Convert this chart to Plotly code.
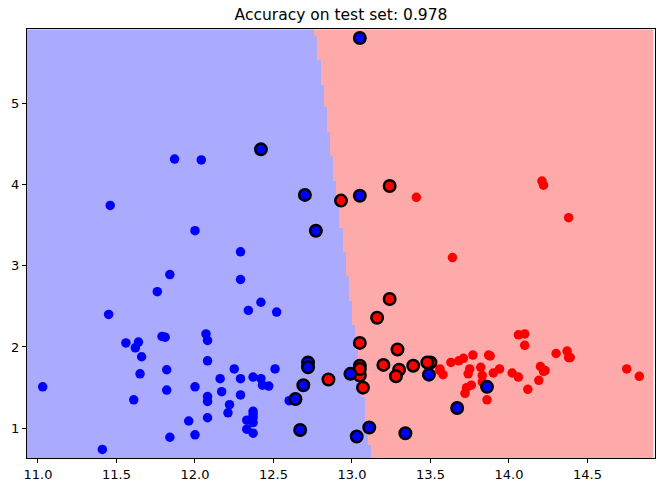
import numpy as np
import plotly.graph_objects as go

# clase 0 (rojo): alcohol, acido malico, marcado como vector soporte
c0_alcohol = [14.23, 13.2, 13.16, 14.37, 13.24, 14.2, 14.39, 14.06, 14.83, 13.86,
              14.1, 14.12, 13.75, 14.75, 14.38, 13.63, 14.3, 13.83, 14.19, 13.64,
              14.06, 12.93, 13.71, 12.85, 13.5, 13.05, 13.39, 13.3, 13.87, 14.02,
              13.73, 13.58, 13.68, 13.76, 13.51, 13.48, 13.28, 13.05, 13.07, 14.22,
              13.56, 13.41, 13.88, 13.24, 13.05, 14.21, 14.38, 13.9, 14.1, 13.94,
              13.05, 13.83, 13.82, 13.77, 13.74, 13.56, 14.22, 13.29, 13.72]
c0_malic = [1.71, 1.78, 2.36, 1.95, 2.59, 1.76, 1.87, 2.15, 1.64, 1.35,
            2.16, 1.48, 1.73, 1.73, 1.87, 1.81, 1.92, 1.57, 1.59, 3.1,
            1.63, 3.8, 1.86, 1.6, 1.81, 2.05, 1.77, 1.72, 1.9, 1.68,
            1.5, 1.66, 1.83, 1.53, 1.8, 1.81, 1.64, 1.65, 1.5, 3.99,
            1.71, 3.84, 1.89, 3.98, 1.77, 4.04, 3.59, 1.68, 2.02, 1.73,
            1.73, 1.65, 1.75, 1.9, 1.67, 1.73, 1.7, 1.97, 1.43]
c0_sv = [0, 1, 1, 0, 1, 0, 0, 0, 0, 0,
         0, 0, 0, 0, 0, 0, 0, 0, 0, 0,
         0, 1, 0, 1, 1, 1, 1, 1, 0, 0,
         0, 0, 0, 0, 0, 1, 1, 1, 1, 0,
         0, 0, 0, 1, 1, 0, 0, 0, 0, 0,
         1, 0, 0, 0, 0, 0, 0, 1, 0]

# clase 1 (azul)
c1_alcohol = [12.37, 12.33, 12.64, 13.67, 12.37, 12.17, 12.37, 13.11, 12.37, 13.34,
              12.21, 12.29, 13.86, 13.49, 12.99, 11.96, 11.66, 13.03, 11.84, 12.33,
              12.7, 12.0, 12.72, 12.08, 13.05, 11.84, 12.67, 12.16, 11.65, 11.64,
              12.08, 12.08, 12.0, 12.69, 12.29, 11.62, 12.47, 11.81, 12.29, 12.37,
              12.29, 12.08, 12.6, 12.34, 11.82, 12.51, 12.42, 12.25, 12.72, 12.22,
              11.61, 11.46, 12.52, 11.76, 11.41, 12.08, 11.03, 11.82, 12.42, 12.77,
              12.0, 11.45, 11.56, 12.42, 13.05, 11.87, 12.07, 12.43, 11.79, 12.37,
              12.04]
c1_malic = [0.94, 1.1, 1.36, 1.25, 1.13, 1.45, 1.21, 1.01, 1.17, 0.94,
            1.19, 1.61, 1.51, 1.66, 1.67, 1.09, 1.88, 0.9, 2.89, 0.99,
            3.87, 0.92, 1.81, 1.13, 3.86, 0.89, 0.98, 1.61, 1.67, 2.06,
            1.33, 1.83, 1.51, 1.53, 2.83, 1.99, 1.52, 2.12, 1.41, 1.07,
            3.17, 2.08, 1.34, 2.45, 1.72, 1.73, 2.55, 1.73, 1.75, 1.29,
            1.35, 3.74, 2.43, 2.68, 0.74, 1.39, 1.51, 1.47, 1.61, 3.43,
            3.43, 2.4, 2.05, 4.43, 5.8, 4.31, 2.16, 1.53, 2.13, 1.63,
            4.3]
c1_sv = [0, 0, 1, 1, 0, 0, 0, 1, 0, 1,
         0, 0, 1, 1, 1, 0, 0, 1, 0, 0,
         1, 0, 1, 0, 1, 0, 1, 0, 0, 0,
         0, 0, 0, 1, 0, 0, 0, 0, 0, 0,
         0, 0, 0, 0, 0, 0, 0, 0, 1, 0,
         0, 0, 0, 0, 0, 0, 0, 0, 0, 1,
         0, 0, 0, 1, 1, 0, 0, 0, 0, 0,
         0]

# frontera de decision (x de la frontera en y_min y y_max)
boundary_y = [0.64, 5.90]
boundary_x = [13.12, 12.765]
x_lims = [10.93, 14.93]
y_lims = [0.635, 5.91]
h = 0.02

xx = np.arange(x_lims[0], x_lims[1], h)
yy = np.arange(y_lims[0], y_lims[1], h)
gx, gy = np.meshgrid(xx, yy)
frontera = np.interp(gy, boundary_y, boundary_x)
zz = (gx > frontera).astype(int)

fig = go.Figure()
fig.add_trace(go.Heatmap(x=xx, y=yy, z=zz, zsmooth=False, showscale=False,
                         colorscale=[[0, "#AAAAFF"], [1, "#FFAAAA"]],
                         hoverinfo="skip"))

for alc, mal, sv, col in [(c0_alcohol, c0_malic, c0_sv, "#FF0000"),
                          (c1_alcohol, c1_malic, c1_sv, "#0000FF")]:
    px_ = [a for a, s in zip(alc, sv) if not s]
    py_ = [m for m, s in zip(mal, sv) if not s]
    fig.add_trace(go.Scatter(x=px_, y=py_, mode="markers",
                             marker=dict(color=col, size=9.5, line=dict(width=0))))
for alc, mal, sv, col in [(c0_alcohol, c0_malic, c0_sv, "#FF0000"),
                          (c1_alcohol, c1_malic, c1_sv, "#0000FF")]:
    px_ = [a for a, s in zip(alc, sv) if s]
    py_ = [m for m, s in zip(mal, sv) if s]
    fig.add_trace(go.Scatter(x=px_, y=py_, mode="markers",
                             marker=dict(color=col, size=11.5, line=dict(color="black", width=2.5))))

eje = dict(showline=True, mirror=True, linecolor="black", linewidth=1,
           ticks="outside", ticklen=4, tickwidth=1, tickcolor="black",
           showgrid=False, zeroline=False, automargin=False,
           tickfont=dict(size=13, color="black"))
fig.update_xaxes(range=x_lims, dtick=0.5, tick0=11, tickformat=".1f", **eje)
fig.update_yaxes(range=y_lims, dtick=1, tick0=1, **eje)

fig.update_layout(width=662, height=490, showlegend=False,
                  margin=dict(l=27, r=7, t=29, b=32),
                  paper_bgcolor="white", plot_bgcolor="white",
                  font=dict(family="DejaVu Sans", color="black"),
                  title=dict(text="Accuracy on test set: 0.978", x=0.5, xref="paper",
                             y=1 - 15 / 490, yref="container", yanchor="middle",
                             automargin=False, font=dict(size=15.5)))
fig.write_html("out.html", config={"displayModeBar": False},
               post_script="document.body.style.margin='0';")
